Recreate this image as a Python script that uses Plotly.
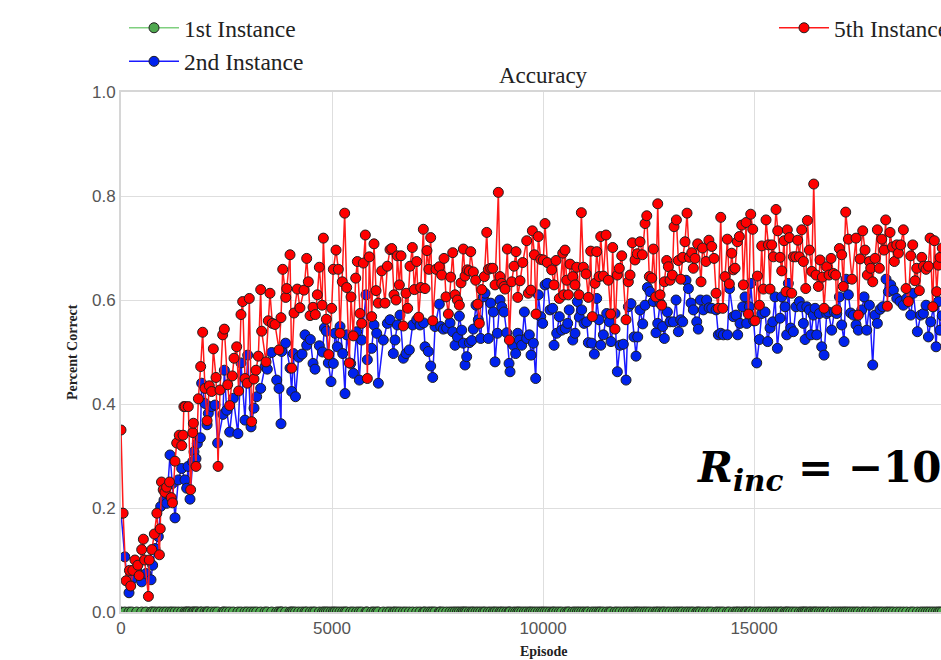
import plotly.graph_objects as go

# ---------------- data ----------------
episodes_5th = [
    0, 50, 120, 200, 230, 280, 330, 400, 430, 490, 530, 560, 650, 670, 730, 790, 850, 910, 930, 960,
    1000, 1040, 1080, 1150, 1190, 1220, 1280, 1320, 1380, 1440, 1470, 1490, 1520, 1595, 1650, 1700, 1715, 1777, 1833, 1888,
    1935, 1990, 2040, 2093, 2148, 2188, 2251, 2300, 2346, 2409, 2449, 2528, 2575, 2638, 2678, 2741, 2788, 2843, 2883, 2938,
    2993, 3040, 3096, 3151, 3199, 3254, 3310, 3333, 3436, 3491, 3530, 3586, 3649, 3744, 3791, 3832, 3903, 3927, 4005, 4045,
    4100, 4178, 4240, 4336, 4400, 4439, 4480, 4550, 4605, 4652, 4700, 4765, 4795, 4865, 4920, 4992, 5031, 5095, 5150, 5190,
    5244, 5300, 5348, 5410, 5450, 5505, 5561, 5600, 5664, 5703, 5742, 5790, 5837, 5884, 5940, 5995, 6043, 6097, 6177, 6256,
    6311, 6374, 6415, 6469, 6517, 6548, 6596, 6635, 6690, 6754, 6793, 6848, 6903, 6951, 7007, 7054, 7102, 7164, 7204, 7250,
    7295, 7338, 7386, 7464, 7543, 7599, 7654, 7701, 7757, 7812, 7860, 7915, 7970, 8018, 8057, 8112, 8152, 8207, 8254, 8287,
    8349, 8404, 8453, 8491, 8547, 8610, 8666, 8704, 8760, 8808, 8863, 8941, 8981, 9021, 9076, 9100, 9155, 9203, 9258, 9313,
    9360, 9401, 9455, 9518, 9613, 9652, 9709, 9747, 9795, 9834, 9889, 9946, 10008, 10047, 10102, 10205, 10261, 10308, 10386, 10467,
    10490, 10521, 10561, 10600, 10640, 10704, 10758, 10798, 10853, 10908, 10956, 11019, 11074, 11130, 11169, 11232, 11272, 11327, 11367, 11430,
    11493, 11548, 11604, 11651, 11706, 11761, 11808, 11865, 11967, 12022, 12062, 12116, 12180, 12235, 12299, 12353, 12417, 12458, 12519, 12576,
    12614, 12671, 12718, 12773, 12812, 12875, 12931, 12970, 13009, 13064, 13104, 13160, 13207, 13263, 13310, 13365, 13412, 13468, 13524, 13562,
    13602, 13665, 13744, 13780, 13860, 13930, 13998, 14052, 14100, 14154, 14211, 14259, 14313, 14368, 14415, 14471, 14510, 14550, 14604, 14652,
    14708, 14747, 14811, 14866, 14921, 14969, 15024, 15080, 15127, 15182, 15222, 15284, 15340, 15379, 15419, 15458, 15521, 15561, 15616, 15656,
    15711, 15758, 15789, 15837, 15893, 15932, 15987, 16035, 16074, 16130, 16169, 16225, 16264, 16311, 16367, 16414, 16469, 16524, 16564, 16619,
    16659, 16722, 16777, 16825, 16880, 16935, 16959, 17022, 17077, 17116, 17172, 17235, 17320, 17417, 17472, 17512, 17575, 17630, 17685, 17733,
    17765, 17812, 17867, 17922, 17970, 18026, 18081, 18120, 18159, 18223, 18278, 18325, 18382, 18420, 18476, 18538, 18602, 18657, 18713, 18760,
    18815, 18855, 18917, 18974, 19014, 19076, 19131, 19171, 19235, 19273, 19329, 19368, 19408, 19460,
]
accuracy_5th = [
    0.35, 0.19, 0.06, 0.08, 0.05, 0.08, 0.10, 0.09, 0.07, 0.12, 0.14, 0.10, 0.03, 0.10, 0.12, 0.15, 0.19, 0.11, 0.16, 0.25,
    0.235, 0.23, 0.24, 0.25, 0.22, 0.21, 0.29, 0.325, 0.34, 0.32, 0.34, 0.395, 0.395, 0.395, 0.235, 0.345, 0.363, 0.28, 0.41, 0.472,
    0.538, 0.43, 0.368, 0.435, 0.424, 0.506, 0.451, 0.28, 0.427, 0.533, 0.544, 0.437, 0.397, 0.454, 0.488, 0.51, 0.425, 0.572, 0.597, 0.449,
    0.44, 0.603, 0.366, 0.448, 0.465, 0.492, 0.62, 0.54, 0.481, 0.56, 0.613, 0.555, 0.553, 0.504, 0.566, 0.659, 0.605, 0.622, 0.687, 0.469,
    0.575, 0.621, 0.585, 0.619, 0.68, 0.635, 0.57, 0.586, 0.572, 0.61, 0.663, 0.59, 0.719, 0.563, 0.495, 0.584, 0.659, 0.696, 0.659, 0.536,
    0.635, 0.767, 0.624, 0.479, 0.606, 0.531, 0.642, 0.674, 0.574, 0.555, 0.671, 0.725, 0.449, 0.683, 0.568, 0.708, 0.618, 0.594, 0.656, 0.594,
    0.665, 0.697, 0.699, 0.61, 0.60, 0.685, 0.629, 0.685, 0.55, 0.613, 0.584, 0.665, 0.701, 0.62, 0.674, 0.567, 0.624, 0.736, 0.622, 0.695,
    0.659, 0.72, 0.56, 0.659, 0.664, 0.648, 0.68, 0.606, 0.573, 0.644, 0.691, 0.61, 0.60, 0.59, 0.633, 0.698, 0.646, 0.658, 0.656, 0.693,
    0.654, 0.638, 0.592, 0.555, 0.62, 0.645, 0.73, 0.659, 0.661, 0.661, 0.629, 0.807, 0.645, 0.632, 0.626, 0.621, 0.698, 0.523, 0.635, 0.665,
    0.693, 0.605, 0.637, 0.672, 0.714, 0.613, 0.619, 0.733, 0.687, 0.573, 0.722, 0.678, 0.677, 0.747, 0.672, 0.658, 0.629, 0.676, 0.603, 0.69,
    0.61, 0.696, 0.638, 0.61, 0.669, 0.645, 0.629, 0.663, 0.61, 0.768, 0.663, 0.65, 0.605, 0.694, 0.568, 0.632, 0.693, 0.645, 0.722, 0.646,
    0.725, 0.638, 0.573, 0.701, 0.544, 0.648, 0.661, 0.685, 0.562, 0.635, 0.648, 0.71, 0.677, 0.689, 0.712, 0.687, 0.747, 0.762, 0.645, 0.642,
    0.698, 0.606, 0.785, 0.61, 0.59, 0.635, 0.676, 0.664, 0.638, 0.648, 0.741, 0.754, 0.676, 0.64, 0.682, 0.712, 0.767, 0.682, 0.691, 0.661,
    0.68, 0.708, 0.635, 0.70, 0.674, 0.715, 0.703, 0.68, 0.613, 0.584, 0.759, 0.584, 0.645, 0.717, 0.631, 0.69, 0.658, 0.661, 0.712, 0.722,
    0.744, 0.629, 0.749, 0.573, 0.765, 0.736, 0.56, 0.646, 0.59, 0.704, 0.621, 0.754, 0.706, 0.621, 0.706, 0.683, 0.774, 0.733, 0.682, 0.656,
    0.714, 0.616, 0.735, 0.72, 0.613, 0.683, 0.683, 0.715, 0.683, 0.735, 0.674, 0.622, 0.753, 0.696, 0.655, 0.823, 0.648, 0.626, 0.677, 0.644,
    0.584, 0.664, 0.648, 0.68, 0.651, 0.648, 0.581, 0.699, 0.687, 0.626, 0.769, 0.717, 0.64, 0.719, 0.571, 0.679, 0.733, 0.696, 0.648, 0.674,
    0.661, 0.635, 0.68, 0.735, 0.661, 0.717, 0.696, 0.754, 0.588, 0.73, 0.702, 0.674, 0.706, 0.69, 0.706, 0.735, 0.622, 0.597, 0.685, 0.706,
    0.637, 0.661, 0.618, 0.682, 0.665, 0.659, 0.665, 0.719, 0.587, 0.714, 0.616, 0.667, 0.682, 0.70,
]

episodes_2nd = [
    0, 90, 190, 254, 372, 490, 592, 711, 750, 806, 885, 940, 1019, 1082, 1161, 1216, 1280, 1358, 1437, 1517,
    1556, 1590, 1635, 1698, 1730, 1777, 1809, 1880, 1911, 1990, 2040, 2069, 2148, 2227, 2290, 2415, 2449, 2504, 2575, 2662,
    2770, 2843, 2938, 3002, 3081, 3152, 3215, 3310, 3412, 3467, 3570, 3689, 3744, 3791, 3807, 3900, 4005, 4045, 4084, 4135,
    4210, 4290, 4360, 4400, 4487, 4550, 4597, 4700, 4775, 4820, 4866, 4913, 4976, 5031, 5071, 5126, 5190, 5253, 5308, 5348,
    5442, 5505, 5584, 5648, 5703, 5806, 5837, 5940, 5995, 6059, 6098, 6216, 6311, 6374, 6453, 6493, 6548, 6611, 6690, 6754,
    6832, 6911, 7007, 7085, 7170, 7204, 7283, 7338, 7386, 7441, 7543, 7575, 7638, 7717, 7796, 7860, 7915, 7970, 8018, 8073,
    8112, 8152, 8191, 8254, 8310, 8349, 8412, 8467, 8523, 8586, 8626, 8704, 8760, 8823, 8863, 8918, 8981, 9021, 9076, 9140,
    9195, 9218, 9297, 9352, 9401, 9439, 9495, 9558, 9613, 9676, 9716, 9771, 9826, 9889, 9946, 9992, 10047, 10102, 10166, 10229,
    10261, 10324, 10386, 10441, 10530, 10584, 10620, 10704, 10758, 10813, 10860, 10916, 10972, 11035, 11074, 11154, 11216, 11272, 11327, 11367,
    11430, 11509, 11572, 11611, 11706, 11761, 11825, 11903, 11967, 12022, 12085, 12156, 12204, 12244, 12299, 12362, 12417, 12473, 12535, 12614,
    12677, 12718, 12773, 12836, 12875, 12946, 13009, 13088, 13152, 13207, 13263, 13310, 13388, 13445, 13507, 13562, 13642, 13680, 13730, 13799,
    13877, 13935, 13998, 14100, 14154, 14211, 14273, 14368, 14420, 14510, 14573, 14613, 14668, 14731, 14787, 14826, 14889, 14921, 14990, 15064,
    15127, 15182, 15261, 15324, 15379, 15442, 15498, 15553, 15616, 15656, 15735, 15774, 15813, 15869, 15932, 15995, 16074, 16130, 16169, 16209,
    16249, 16311, 16350, 16406, 16446, 16485, 16548, 16603, 16659, 16722, 16761, 16840, 16903, 16959, 17022, 17077, 17133, 17180, 17235, 17290,
    17354, 17417, 17472, 17552, 17607, 17670, 17733, 17812, 17867, 17922, 17986, 18049, 18128, 18183, 18239, 18302, 18382, 18460, 18538, 18617,
    18713, 18776, 18870, 18950, 19014, 19076, 19131, 19187, 19250, 19313, 19368, 19408, 19460,
]
accuracy_2nd = [
    0.19, 0.106, 0.037, 0.062, 0.081, 0.058, 0.074, 0.062, 0.09, 0.122, 0.145, 0.203, 0.215, 0.209, 0.302, 0.247, 0.181, 0.254, 0.276, 0.254,
    0.238, 0.28, 0.217, 0.289, 0.308, 0.295, 0.324, 0.335, 0.44, 0.401, 0.36, 0.382, 0.395, 0.398, 0.325, 0.38, 0.465, 0.388, 0.346, 0.411,
    0.343, 0.479, 0.369, 0.494, 0.356, 0.392, 0.414, 0.43, 0.472, 0.467, 0.499, 0.446, 0.43, 0.362, 0.501, 0.517, 0.469, 0.424, 0.497, 0.414,
    0.49, 0.496, 0.533, 0.513, 0.524, 0.478, 0.467, 0.512, 0.50, 0.546, 0.54, 0.479, 0.443, 0.478, 0.536, 0.51, 0.549, 0.497, 0.42, 0.533,
    0.478, 0.459, 0.539, 0.446, 0.523, 0.61, 0.485, 0.507, 0.552, 0.536, 0.44, 0.523, 0.555, 0.562, 0.497, 0.523, 0.552, 0.571, 0.488, 0.497,
    0.504, 0.552, 0.562, 0.552, 0.556, 0.51, 0.501, 0.473, 0.451, 0.549, 0.592, 0.549, 0.544, 0.546, 0.556, 0.539, 0.513, 0.529, 0.569, 0.542,
    0.517, 0.475, 0.491, 0.518, 0.522, 0.544, 0.59, 0.562, 0.526, 0.606, 0.613, 0.526, 0.594, 0.577, 0.481, 0.536, 0.60, 0.587, 0.577, 0.537,
    0.478, 0.462, 0.513, 0.497, 0.536, 0.523, 0.513, 0.577, 0.526, 0.533, 0.494, 0.517, 0.449, 0.61, 0.568, 0.555, 0.629, 0.632, 0.581, 0.584,
    0.513, 0.536, 0.568, 0.542, 0.545, 0.555, 0.581, 0.523, 0.536, 0.597, 0.567, 0.581, 0.555, 0.558, 0.518, 0.517, 0.496, 0.603, 0.562, 0.513,
    0.533, 0.574, 0.558, 0.52, 0.574, 0.462, 0.513, 0.515, 0.446, 0.587, 0.593, 0.529, 0.492, 0.529, 0.581, 0.554, 0.59, 0.624, 0.616, 0.597,
    0.537, 0.555, 0.594, 0.549, 0.526, 0.577, 0.558, 0.558, 0.60, 0.539, 0.562, 0.558, 0.638, 0.622, 0.594, 0.581, 0.558, 0.544, 0.60, 0.581,
    0.60, 0.585, 0.584, 0.581, 0.533, 0.536, 0.533, 0.533, 0.622, 0.568, 0.571, 0.533, 0.555, 0.587, 0.606, 0.555, 0.587, 0.632, 0.56, 0.479,
    0.524, 0.574, 0.577, 0.52, 0.546, 0.558, 0.606, 0.507, 0.565, 0.606, 0.587, 0.533, 0.632, 0.546, 0.539, 0.587, 0.597, 0.587, 0.555, 0.524,
    0.587, 0.581, 0.533, 0.571, 0.584, 0.533, 0.574, 0.51, 0.494, 0.574, 0.577, 0.542, 0.577, 0.574, 0.606, 0.552, 0.52, 0.64, 0.61, 0.575,
    0.571, 0.552, 0.542, 0.581, 0.606, 0.542, 0.59, 0.475, 0.571, 0.555, 0.582, 0.587, 0.64, 0.616, 0.629, 0.619, 0.603, 0.597, 0.59, 0.603,
    0.571, 0.613, 0.539, 0.571, 0.574, 0.59, 0.529, 0.558, 0.587, 0.51, 0.597, 0.542, 0.57,
]

# 1st instance never gets anything right: 0 at every logged episode
accuracy_1st = [0.0 for _ in episodes_2nd]

x_ticks = [0, 5000, 10000, 15000, 20000]
y_ticks = [0.0, 0.2, 0.4, 0.6, 0.8, 1.0]
x_visible_max = 19430

# ---------------- figure ----------------
edge = dict(color="#1f1f1f", width=1)
fig = go.Figure()
fig.add_trace(go.Scatter(
    x=episodes_2nd, y=accuracy_1st, name="1st Instance", mode="lines+markers",
    line=dict(color="#7fcf7f", width=1.5),
    marker=dict(size=10, color="#4fa84f", line=edge), legend="legend"))
fig.add_trace(go.Scatter(
    x=episodes_2nd, y=accuracy_2nd, name="2nd Instance", mode="lines+markers",
    line=dict(color="#1a1aff", width=1.5),
    marker=dict(size=10, color="#0022ee", line=edge), legend="legend"))
fig.add_trace(go.Scatter(
    x=episodes_5th, y=accuracy_5th, name="5th Instance", mode="lines+markers",
    line=dict(color="#ff1a1a", width=1.5),
    marker=dict(size=10, color="#ff0000", line=edge), legend="legend2"))

serif = "Liberation Serif"
legend_common = dict(
    xref="container", yref="container", xanchor="left", yanchor="top",
    font=dict(family=serif, size=23.5, color="#222222"),
    bgcolor="rgba(0,0,0,0)", borderwidth=0, itemwidth=50, tracegroupgap=1,
)

fig.update_layout(
    width=941, height=660,
    paper_bgcolor="white", plot_bgcolor="white",
    margin=dict(l=121, r=0, t=92, b=48, autoexpand=False),
    showlegend=True,
    legend=dict(x=124 / 941, y=1 - 6 / 660, **legend_common),
    legend2=dict(x=774 / 941, y=1 - 6 / 660, **legend_common),
    xaxis=dict(
        range=[0, x_visible_max], tickvals=x_ticks, tickformat="d", showgrid=True,
        gridcolor="#dedede", gridwidth=1.3, zeroline=False,
        showline=True, linecolor="#d6d6d6", linewidth=2, mirror=True,
        ticks="", ticklen=0, layer="below traces",
        tickfont=dict(family="Liberation Sans", size=17, color="#555555"),
    ),
    yaxis=dict(
        range=[0, 1.0], tickvals=y_ticks, tickformat=".1f", showgrid=True,
        gridcolor="#dedede", gridwidth=1.3, zeroline=False,
        showline=True, linecolor="#d6d6d6", linewidth=2, mirror=True,
        ticks="", ticklen=0, layer="below traces",
        tickfont=dict(family="Liberation Sans", size=17, color="#555555"),
    ),
    annotations=[
        dict(text="Accuracy", xref="x", yref="paper", x=10000, y=1.0, yshift=2,
             xanchor="center", yanchor="bottom", showarrow=False,
             font=dict(family=serif, size=23, color="#222222")),
        dict(text="<b>Episode</b>", xref="x", yref="paper", x=10000, y=-0.075,
             xanchor="center", yanchor="middle", showarrow=False,
             font=dict(family=serif, size=14, color="#222222")),
        dict(text="<b>Percent Correct</b>", xref="paper", yref="paper",
             x=(72 - 121) / 820, y=0.5, textangle=-90,
             xanchor="center", yanchor="middle", showarrow=False,
             font=dict(family=serif, size=14, color="#222222")),
        dict(text="<b><i>R</i><sub><i>inc</i></sub> = −10</b>", xref="paper", yref="paper",
             x=(695 - 121) / 820, y=(612 - 470) / 520,
             xanchor="left", yanchor="middle", showarrow=False,
             font=dict(family="DejaVu Serif", size=42, color="black")),
    ],
)

fig.write_html(
    "out.html",
    config={"displayModeBar": False},
    post_script="document.body.style.margin='0px';document.body.style.overflow='hidden';",
)
